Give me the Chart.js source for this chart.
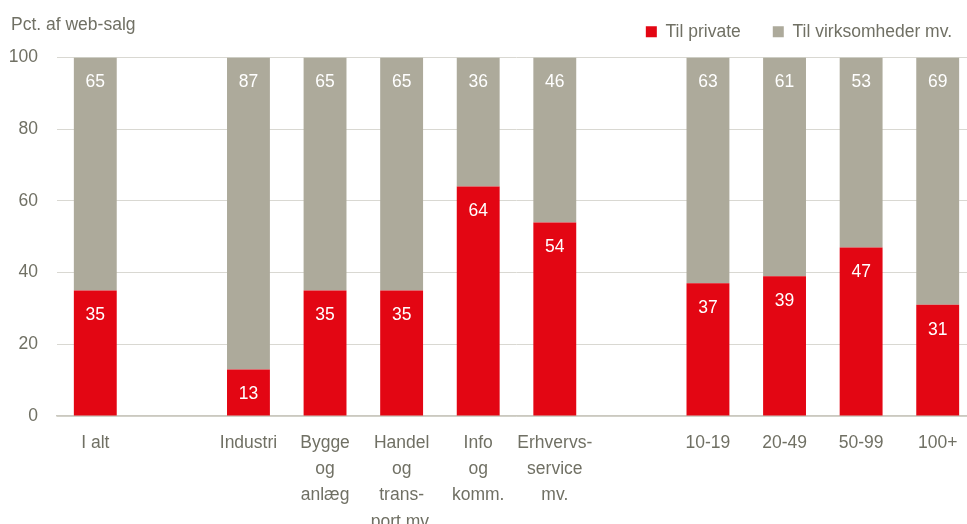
<!DOCTYPE html>
<html>
<head>
<meta charset="utf-8">
<script src="https://cdn.jsdelivr.net/npm/chart.js@4.4.0/dist/chart.umd.min.js"></script>
<style>
  html, body { margin: 0; padding: 0; background: #fff; overflow: hidden; }
  #wrap { width: 967px; height: 524px; overflow: hidden; }
</style>
</head>
<body>
<div id="wrap"><canvas id="chart" width="976" height="524"></canvas></div>
<script>
const categories = [
  "I alt", "", "Industri", ["Bygge", "og", "anlæg"], ["Handel", "og", "trans-", "port mv."],
  ["Info", "og", "komm."], ["Erhvervs-", "service", "mv."], "", "10-19", "20-49", "50-99", "100+"
];
const tilPrivate = [35, null, 13, 35, 35, 64, 54, null, 37, 39, 47, 31];
const tilVirksomheder = [65, null, 87, 65, 65, 36, 46, null, 63, 61, 53, 69];
const yTicks = [0, 20, 40, 60, 80, 100];

const FONT = "'Liberation Sans', Arial, sans-serif";
const SIZE = 17.5;
const TEXT = "#707064";
const LEGEND_PAD = 32;

// værdier i søjlerne, tæt på toppen af hvert segment
const valueLabels = {
  id: 'valueLabels',
  afterDatasetsDraw(chart) {
    const ctx = chart.ctx;
    ctx.save();
    ctx.font = SIZE + "px " + FONT;
    ctx.fillStyle = "#fff";
    ctx.textAlign = "center";
    ctx.textBaseline = "middle";
    chart.data.datasets.forEach((ds, i) => {
      chart.getDatasetMeta(i).data.forEach((bar, j) => {
        if (ds.data[j] == null) return;
        ctx.fillText(ds.data[j], bar.x, bar.y + 25);
      });
    });
    ctx.restore();
  }
};

const axisTitle = {
  id: 'axisTitle',
  afterLayout(chart) {
    // legenden placeres øverst til højre inden for vinduet
    const lg = chart.legend;
    const h = lg.bottom - lg.top;
    const w = lg.right - lg.left;
    lg.right = 952 + LEGEND_PAD;
    lg.left = lg.right - w;
    lg.top = 23 - LEGEND_PAD;
    lg.bottom = lg.top + h;
  },
  afterDraw(chart) {
    const ctx = chart.ctx;
    ctx.save();
    ctx.font = SIZE + "px " + FONT;
    ctx.fillStyle = TEXT;
    ctx.textAlign = "left";
    ctx.textBaseline = "middle";
    ctx.fillText("Pct. af web-salg", 11, 25);
    ctx.restore();
  }
};

new Chart(document.getElementById("chart"), {
  type: 'bar',
  data: {
    labels: categories,
    datasets: [
      { label: "Til private", data: tilPrivate, backgroundColor: "#E30613" },
      { label: "Til virksomheder mv.", data: tilVirksomheder, backgroundColor: "#ADAA9B" }
    ]
  },
  options: {
    responsive: false,
    animation: false,
    layout: { padding: { top: -2, left: 0, right: 0, bottom: 0 } },
    datasets: { bar: { categoryPercentage: 1, barPercentage: 0.56 } },
    plugins: {
      legend: {
        position: 'top',
        align: 'end',
        labels: {
          color: TEXT,
          font: { family: FONT, size: SIZE },
          boxWidth: 11,
          boxHeight: 11,
          padding: LEGEND_PAD
        }
      },
      tooltip: { enabled: false }
    },
    scales: {
      x: {
        stacked: true,
        grid: { display: false },
        border: { display: true, color: "#cbc9c0", width: 1.5 },
        ticks: {
          color: TEXT,
          font: { family: FONT, size: SIZE, lineHeight: 1.5 },
          padding: 6,
          maxRotation: 0,
          autoSkip: false
        },
        afterFit(scale) { scale.height = 108; }
      },
      y: {
        stacked: true,
        min: 0,
        max: 100,
        afterBuildTicks(scale) { scale.ticks = yTicks.map(v => ({ value: v })); },
        grid: { color: "#d9d8d2", drawTicks: false },
        border: { display: false },
        ticks: {
          color: TEXT,
          font: { family: FONT, size: SIZE },
          padding: 19
        },
        afterFit(scale) { scale.width = 57; }
      }
    }
  },
  plugins: [valueLabels, axisTitle]
});
</script>
</body>
</html>
